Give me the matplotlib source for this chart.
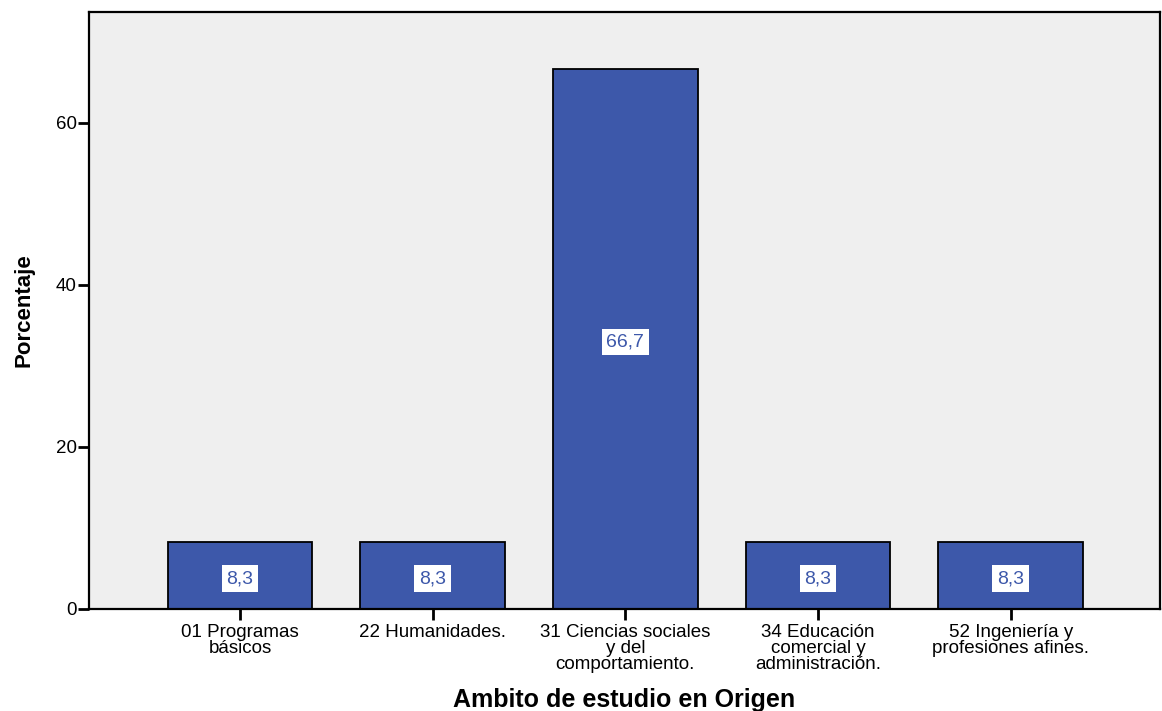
import numpy as np
import matplotlib.pyplot as plt

plt.rcParams['font.family'] = ['Liberation Sans', 'DejaVu Sans']

categorias = ['01 Programas\nbásicos', '22 Humanidades.', '31 Ciencias sociales\ny del\ncomportamiento.',
              '34 Educación\ncomercial y\nadministración.', '52 Ingeniería y\nprofesiones afines.']
porcentaje = [8.3, 8.3, 66.7, 8.3, 8.3]
etiquetas = ['8,3', '8,3', '66,7', '8,3', '8,3']

fig = plt.figure(figsize=(11.62, 7.11), dpi=100)
ax = fig.add_axes([0.0766, 0.1435, 0.9217, 0.8396])
ax.set_facecolor('#efefef')

x = np.arange(len(categorias))
ax.bar(x, porcentaje, width=0.752, color='#3d58aa', edgecolor='black', linewidth=1.3, zorder=2)

# etiquetas de valor en el centro de cada barra
for xi, v, t in zip(x, porcentaje, etiquetas):
    ax.text(xi, v / 2 - 0.4, t, ha='center', va='center', fontsize=14, color='#3d58aa',
            bbox=dict(facecolor='white', edgecolor='none', pad=3.5), zorder=3)

ax.set_xlim(-0.784, 4.775)
ax.set_ylim(0, 73.7)
ax.set_yticks([0, 20, 40, 60])
ax.set_xticks(x)
ax.set_xticklabels(categorias, fontsize=13.5, linespacing=0.92)
ax.tick_params(axis='y', labelsize=13.5, length=8, width=2, pad=1)
ax.tick_params(axis='x', length=8, width=2, pad=3)

for s in ax.spines.values():
    s.set_linewidth(1.6)

ax.set_ylabel('Porcentaje', fontsize=16, fontweight='bold', labelpad=15)
ax.set_xlabel('Ambito de estudio en Origen', fontsize=18, fontweight='bold', labelpad=11)

fig.savefig('out.png', dpi=100)
